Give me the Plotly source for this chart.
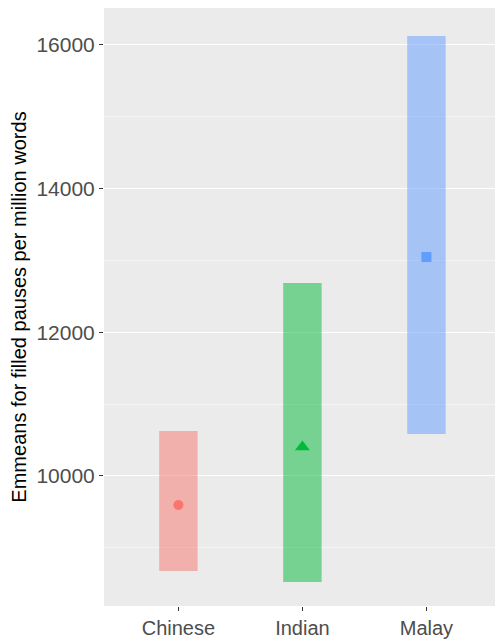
import plotly.graph_objects as go

# Estimated marginal means with confidence limits per group
groups = ["Chinese", "Indian", "Malay"]
emmeans = [9596, 10404, 13048]
lower_cl = [8678, 8525, 10585]
upper_cl = [10626, 12686, 16125]

fill_colors = ["rgba(248,118,109,0.5)", "rgba(0,186,56,0.5)", "rgba(97,156,255,0.5)"]
point_colors = ["#F8766D", "#00BA38", "#619CFF"]
symbols = ["circle", "triangle-up", "square"]
marker_sizes = [10, 13, 10]

y_ticks = [10000, 12000, 14000, 16000]
y_tick_labels = ["10000", "12000", "14000", "16000"]

xpos = list(range(1, len(groups) + 1))

fig = go.Figure()

for i, g in enumerate(groups):
    fig.add_trace(go.Bar(
        x=[xpos[i]],
        y=[upper_cl[i] - lower_cl[i]],
        base=[lower_cl[i]],
        width=0.31,
        marker=dict(color=fill_colors[i], line=dict(width=0)),
        showlegend=False,
        hoverinfo="skip",
    ))

for i, g in enumerate(groups):
    fig.add_trace(go.Scatter(
        x=[xpos[i]],
        y=[emmeans[i]],
        mode="markers",
        marker=dict(color=point_colors[i], symbol=symbols[i],
                    size=marker_sizes[i], line=dict(width=0)),
        showlegend=False,
        name=g,
    ))

fig.update_layout(
    width=495,
    height=641,
    margin=dict(l=104, r=0, t=8, b=35),
    paper_bgcolor="white",
    plot_bgcolor="#EBEBEB",
    font=dict(family="Liberation Sans, Arial, sans-serif", color="#4D4D4D"),
    barmode="overlay",
    xaxis=dict(
        range=[0.4, 3.553],
        tickmode="array",
        tickvals=xpos,
        ticktext=groups,
        showgrid=False,
        zeroline=False,
        ticks="outside",
        ticklen=4,
        tickcolor="#333333",
        tickfont=dict(size=20, color="#4D4D4D"),
        automargin=False,
    ),
    yaxis=dict(
        range=[8190, 16515],
        tickmode="array",
        tickvals=y_ticks,
        ticktext=y_tick_labels,
        showgrid=True,
        gridcolor="white",
        gridwidth=1.2,
        minor=dict(dtick=1000, tick0=9000, showgrid=True,
                   gridcolor="#F5F5F5", gridwidth=0.6),
        zeroline=False,
        ticks="outside",
        ticklen=4,
        tickcolor="#333333",
        tickfont=dict(size=21, color="#4D4D4D"),
        automargin=False,
        title=dict(text="Emmeans for filled pauses per million words",
                   font=dict(size=20, color="black"), standoff=4),
    ),
)

fig.write_html("out.html")
